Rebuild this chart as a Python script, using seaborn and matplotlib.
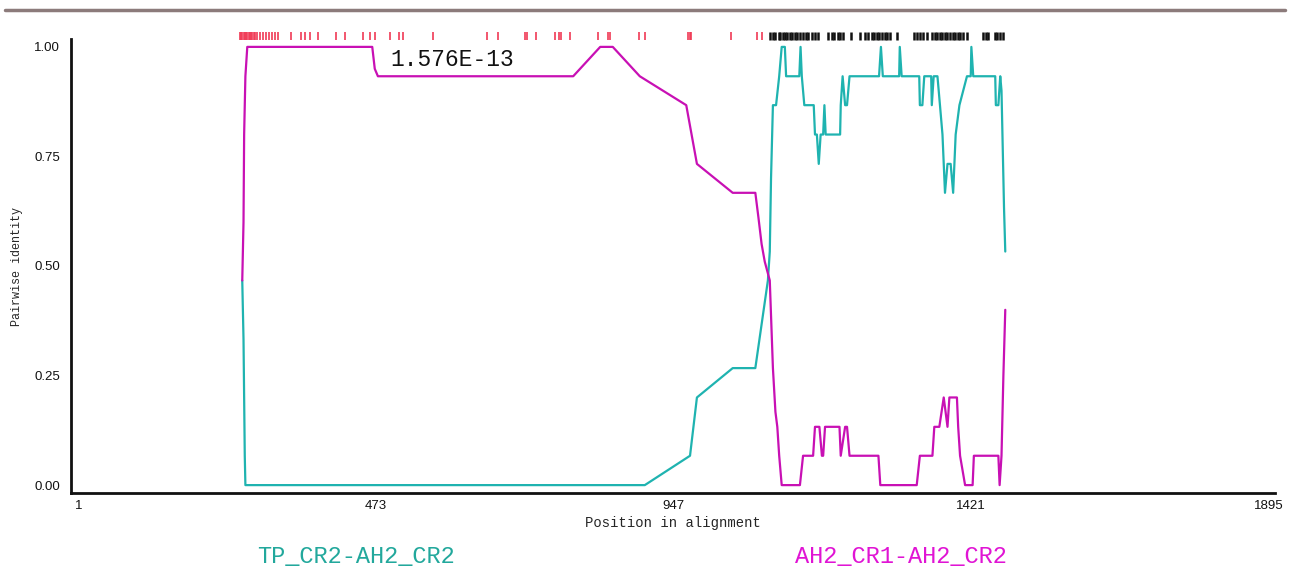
import numpy as np
import pandas as pd
import matplotlib.pyplot as plt
import seaborn as sns
from matplotlib.lines import Line2D

# pairwise identity, AH2_CR1-AH2_CR2 (magenta)
mag_pos = [261, 262, 263, 264, 265, 266, 269, 468, 472, 477, 788, 831, 851, 894, 968, 985,
           1042, 1078, 1083, 1088, 1093, 1101, 1106, 1110, 1113, 1116, 1120, 1149, 1154, 1170,
           1173, 1180, 1184, 1186, 1189, 1212, 1214, 1221, 1224, 1228, 1274, 1277, 1335, 1340,
           1360, 1363, 1371, 1378, 1384, 1387, 1399, 1401, 1404, 1412, 1424, 1426, 1465, 1467,
           1470, 1473, 1476]
mag_id = [0.467, 0.533, 0.6, 0.8, 0.867, 0.933, 1.0, 1.0, 0.95, 0.933, 0.933, 1.0, 1.0, 0.933,
          0.867, 0.733, 0.667, 0.667, 0.61, 0.55, 0.51, 0.467, 0.267, 0.167, 0.133, 0.067, 0.0,
          0.0, 0.067, 0.067, 0.133, 0.133, 0.067, 0.067, 0.133, 0.133, 0.067, 0.133, 0.133,
          0.067, 0.067, 0.0, 0.0, 0.067, 0.067, 0.133, 0.133, 0.2, 0.133, 0.2, 0.2, 0.133,
          0.067, 0.0, 0.0, 0.067, 0.067, 0.0, 0.067, 0.25, 0.4]

# pairwise identity, TP_CR2-AH2_CR2 (teal)
teal_pos = [261, 262, 263, 264, 265, 266, 269, 902, 974, 985, 1042, 1078, 1098, 1101, 1103,
            1106, 1111, 1116, 1120, 1125, 1127, 1148, 1150, 1152, 1156, 1171, 1173, 1176, 1179,
            1182, 1186, 1188, 1190, 1213, 1214, 1217, 1221, 1224, 1228, 1275, 1278, 1281, 1307,
            1308, 1311, 1339, 1340, 1344, 1347, 1358, 1359, 1362, 1368, 1372, 1376, 1380, 1384,
            1389, 1393, 1397, 1403, 1415, 1421, 1422, 1425, 1460, 1461, 1465, 1468, 1470, 1473,
            1474, 1476]
teal_id = [0.467, 0.4, 0.333, 0.2, 0.067, 0.0, 0.0, 0.0, 0.067, 0.2, 0.267, 0.267, 0.467,
           0.533, 0.7, 0.867, 0.867, 0.933, 1.0, 1.0, 0.933, 0.933, 1.0, 0.933, 0.867, 0.867,
           0.8, 0.8, 0.733, 0.8, 0.8, 0.867, 0.8, 0.8, 0.867, 0.933, 0.867, 0.867, 0.933, 0.933,
           1.0, 0.933, 0.933, 1.0, 0.933, 0.933, 0.867, 0.867, 0.933, 0.933, 0.867, 0.933, 0.933,
           0.867, 0.8, 0.667, 0.733, 0.733, 0.667, 0.8, 0.867, 0.933, 0.933, 1.0, 0.933, 0.933,
           0.867, 0.867, 0.933, 0.9, 0.7, 0.633, 0.533]

# informative sites drawn above the plot
red_sites = [257, 259, 261, 263, 265, 267, 269, 271, 273, 275, 277, 279, 281, 285, 289, 294,
             299, 303, 308, 313, 318, 339, 354, 361, 369, 382, 411, 425, 453, 464, 472, 496,
             511, 517, 565, 650, 669, 711, 715, 729, 759, 765, 768, 783, 828, 844, 846, 892,
             902, 971, 974, 976, 1040, 1080, 1088]
black_sites = [1101, 1106, 1109, 1115, 1117, 1122, 1125, 1129, 1133, 1136, 1141, 1144, 1149,
               1154, 1159, 1162, 1168, 1173, 1178, 1194, 1200, 1203, 1209, 1213, 1218, 1231,
               1245, 1253, 1258, 1263, 1267, 1271, 1275, 1279, 1284, 1288, 1292, 1303, 1330,
               1335, 1340, 1345, 1351, 1359, 1364, 1368, 1372, 1376, 1380, 1384, 1388, 1392,
               1396, 1400, 1404, 1409, 1415, 1441, 1446, 1449, 1460, 1463, 1468, 1472]

x_ticks = [1, 473, 947, 1421, 1895]
y_ticks = [0.0, 0.25, 0.5, 0.75, 1.0]

MAG = '#c810b4'
TEAL = '#1fb3b0'

sns.set_style('white')
plt.rcParams['font.family'] = ['Liberation Sans', 'DejaVu Sans']
mono = ['Liberation Mono', 'DejaVu Sans Mono']

fig = plt.figure(figsize=(12.91, 5.72), dpi=100)
ax = fig.add_axes([71 / 1291, 79 / 572, 1204 / 1291, 454 / 572])

teal = pd.DataFrame({'pos': teal_pos, 'identity': teal_id})
mag = pd.DataFrame({'pos': mag_pos, 'identity': mag_id})
sns.lineplot(data=teal, x='pos', y='identity', color=TEAL, lw=1.6, sort=False,
             estimator=None, ax=ax)
sns.lineplot(data=mag, x='pos', y='identity', color=MAG, lw=1.6, sort=False,
             estimator=None, ax=ax)

ax.vlines(red_sites, 1.016, 1.034, colors='#f03a55', lw=1.2, clip_on=False)
ax.vlines(black_sites, 1.016, 1.034, colors='#111111', lw=1.8, clip_on=False)

ax.set_xlim(-11.7, 1905.5)
ax.set_ylim(-0.018, 1.018)
ax.set_xticks(x_ticks)
ax.set_xticklabels([str(t) for t in x_ticks])
ax.set_yticks(y_ticks)
ax.set_yticklabels(['%.2f' % t for t in y_ticks])
ax.tick_params(axis='both', direction='in', length=5, width=1.2, labelsize=9.5,
               colors='#111111')
ax.tick_params(axis='y', pad=8)
ax.tick_params(axis='x', pad=5)
for s in ['top', 'right']:
    ax.spines[s].set_visible(False)
for s in ['left', 'bottom']:
    ax.spines[s].set_linewidth(2)
    ax.spines[s].set_color('#111111')

ax.set_xlabel('Position in alignment', family=mono, fontsize=10, labelpad=3)
ax.set_ylabel('Pairwise identity', family=mono, fontsize=8.5, labelpad=8)

fig.text(390 / 1291, 1 - 60 / 572, '1.576E-13', family=mono, fontsize=16.5,
         va='center', ha='left', color='#111111')
fig.text(356 / 1291, 1 - 557 / 572, 'TP_CR2-AH2_CR2', family=mono, fontsize=17,
         va='center', ha='center', color='#22a89c')
fig.text(901 / 1291, 1 - 557 / 572, 'AH2_CR1-AH2_CR2', family=mono, fontsize=17,
         va='center', ha='center', color='#e014d4')

fig.add_artist(Line2D([5 / 1291, 1285 / 1291], [1 - 10 / 572, 1 - 10 / 572],
                      color='#8c7b7b', lw=2.5, transform=fig.transFigure))

fig.savefig('out.png', dpi=100)
